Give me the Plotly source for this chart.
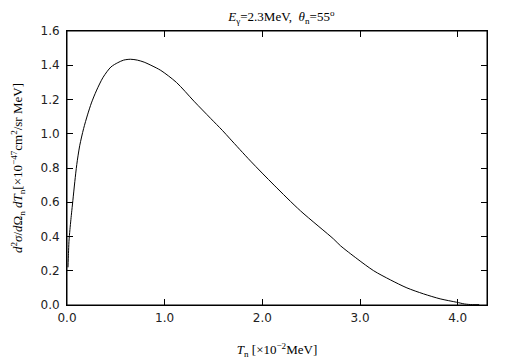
import plotly.graph_objects as go

# Curve values
tn = [0.01, 0.015, 0.02, 0.03, 0.04, 0.06, 0.08, 0.10, 0.13, 0.17, 0.21, 0.25, 0.30, 0.37, 0.45,
      0.52, 0.58, 0.65, 0.72, 0.79, 0.87, 0.96, 1.12, 1.30, 1.47, 1.59, 1.67, 1.88, 2.12, 2.39, 2.73,
      2.80, 2.97, 3.14, 3.31, 3.48, 3.65, 3.82, 3.99, 4.07, 4.15, 4.22]
xsec = [0.22, 0.30, 0.37, 0.44, 0.50, 0.61, 0.72, 0.82, 0.93, 1.03, 1.11, 1.18, 1.25, 1.33, 1.39,
        1.415, 1.43, 1.435, 1.43, 1.418, 1.397, 1.37, 1.30, 1.19, 1.09, 1.02, 0.97, 0.84, 0.70, 0.55, 0.385,
        0.346, 0.27, 0.20, 0.147, 0.10, 0.065, 0.036, 0.016, 0.006, 0.002, 0.002]

x_ticks = [0, 1, 2, 3, 4]
x_tick_labels = ["0.0", "1.0", "2.0", "3.0", "4.0"]
y_ticks = [0, 0.2, 0.4, 0.6, 0.8, 1.0, 1.2, 1.4, 1.6]
y_tick_labels = ["0.0", "0.2", "0.4", "0.6", "0.8", "1.0", "1.2", "1.4", "1.6"]

fig = go.Figure()
fig.add_trace(go.Scatter(x=tn, y=xsec, mode="lines", line=dict(color="black", width=1, shape="spline", smoothing=0.8),
                         showlegend=False, hoverinfo="skip"))

serif = "Liberation Serif, Times New Roman, serif"
sans = "DejaVu Sans, Arial, sans-serif"

axis_common = dict(showgrid=False, zeroline=False, showline=True, linecolor="black", linewidth=1,
                   mirror="allticks", ticks="inside", ticklen=6, tickcolor="black", tickwidth=1,
                   automargin=False,
                   tickfont=dict(family=sans, size=12, color="#222222"))

fig.update_layout(
    width=497, height=353,
    margin=dict(l=59, r=18, t=23, b=56),
    paper_bgcolor="white", plot_bgcolor="white",
    title=dict(text="<i>E</i><sub>γ</sub>=2.3MeV,  <i>θ</i><sub>n</sub>=55<sup>o</sup>",
               x=0.55, xanchor="center", y=0.975, yanchor="middle",
               font=dict(family=serif, size=13, color="black")),
    xaxis=dict(range=[0, 4.3], tickvals=x_ticks, ticktext=x_tick_labels,
               title=dict(text="<i>T</i><sub>n</sub> [×10<sup>−2</sup>MeV]", standoff=20,
                          font=dict(family=serif, size=13, color="black")),
               ticklabelstandoff=2,
               **axis_common),
    yaxis=dict(range=[0, 1.6], tickvals=y_ticks, ticktext=y_tick_labels,
               title=dict(text="<i>d</i><sup>2</sup><i>σ</i>/<i>d</i>Ω<sub>n</sub> <i>dT</i><sub>n</sub>[×10<sup>−47</sup>cm<sup>2</sup>/sr MeV]",
                          standoff=14, font=dict(family=serif, size=13, color="black")),
               ticklabelstandoff=4,
               **axis_common),
    shapes=[dict(type="rect", xref="paper", yref="paper", x0=0, y0=0, x1=1, y1=1,
                 line=dict(color="black", width=1), fillcolor="rgba(0,0,0,0)", layer="above")],
)

fig.write_html("out.html")
